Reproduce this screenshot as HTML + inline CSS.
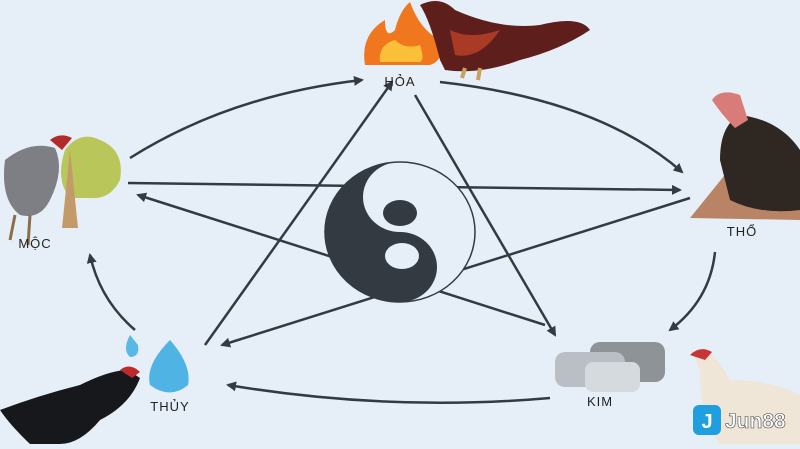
<!DOCTYPE html><html><head><style>
body{margin:0;width:800px;height:444px;overflow:hidden;background:#e6eff7;font-family:"Liberation Sans",sans-serif}
</style></head><body>
<svg width="800" height="444" viewBox="0 0 800 444">
<defs><marker id="a" markerWidth="10" markerHeight="10" refX="8" refY="5" orient="auto" markerUnits="userSpaceOnUse"><path d="M0,0 L10,5 L0,10 z" fill="#333a42"/></marker></defs>
<g stroke="#333a42" stroke-width="2.5" fill="none" marker-end="url(#a)">
<path d="M130,158 Q230,95 362,80"/>
<path d="M440,82 Q600,100 682,172"/>
<path d="M715,252 Q710,300 670,330"/>
<path d="M550,398 Q390,412 228,385"/>
<path d="M135,330 Q100,300 90,255"/>
<path d="M128,183 L680,190"/>
<path d="M690,198 L222,345"/>
<path d="M205,345 L392,82"/>
<path d="M415,95 L555,335"/>
<path d="M545,325 L138,195"/>
</g>
<ellipse cx="400" cy="232" rx="75" ry="70" fill="#e6eff7" stroke="#333a42" stroke-width="1.5"/>
<path d="M400,162 A75,70 0 0 0 400,302 A37,35 0 0 0 400,232 A37,35 0 0 1 400,162 z" fill="#333a42"/>
<ellipse cx="400" cy="213" rx="17" ry="13" fill="#333a42"/>
<ellipse cx="402" cy="256" rx="17" ry="13" fill="#e6eff7"/>
<!-- fire -->
<path d="M365,65 Q360,35 385,20 Q385,40 395,30 Q400,10 410,2 Q420,30 440,40 Q445,60 430,65 z" fill="#f0771e"/>
<path d="M380,62 Q378,45 395,40 Q405,50 420,45 Q425,60 420,62 z" fill="#fbbf3a"/>
<!-- hoa rooster -->
<path d="M440,60 Q430,20 420,5 Q440,-5 455,10 Q500,30 540,25 Q580,15 590,30 Q560,50 520,60 Q480,75 445,70 z" fill="#5e1e1c"/>
<path d="M450,30 Q470,40 500,30 Q480,60 455,55 z" fill="#a83a26"/>
<path d="M465,68 L462,78 M480,68 L478,80" stroke="#c8a060" stroke-width="4"/>
<!-- tho -->
<path d="M690,218 L745,150 L800,170 L800,220 z" fill="#b98466"/>
<path d="M720,160 Q720,125 740,115 Q780,120 800,150 L800,210 Q760,215 730,200 z" fill="#2e2722"/>
<path d="M712,100 Q720,88 740,95 L748,120 L735,128 Q722,115 712,100 z" fill="#d97b78"/>
<!-- moc -->
<path d="M65,150 Q80,130 100,140 Q125,150 120,180 Q110,200 90,198 L70,198 Q55,180 65,150 z" fill="#b8c65a"/>
<path d="M62,228 L70,150 L78,228 z" fill="#c39a6a"/>
<path d="M5,160 Q30,140 55,148 Q65,170 50,200 Q40,220 20,215 Q0,200 5,160 z" fill="#7d7f85"/>
<path d="M50,140 Q60,132 72,138 L62,150 z" fill="#b32a2a"/>
<path d="M15,215 L10,240 M30,215 L28,245" stroke="#8c6e4a" stroke-width="3"/>
<!-- thuy -->
<path d="M130,335 Q122,350 130,357 Q140,357 138,345 z" fill="#59b9e6"/>
<path d="M170,340 Q145,365 150,385 Q170,400 188,385 Q192,365 170,340 z" fill="#4fb4e4"/>
<path d="M0,410 Q40,395 80,385 Q110,370 128,370 L140,378 Q130,405 100,420 Q80,444 60,444 L30,444 Q10,425 0,410 z" fill="#16181c"/>
<path d="M120,370 Q130,362 140,372 L132,378 z" fill="#c02a2a"/>
<!-- kim -->
<rect x="590" y="342" width="75" height="40" rx="10" fill="#8e9398"/>
<rect x="555" y="352" width="70" height="35" rx="10" fill="#b9bfc4"/>
<rect x="585" y="362" width="55" height="30" rx="8" fill="#d5dade"/>
<path d="M700,370 Q690,355 705,350 Q720,360 730,380 Q770,380 800,395 L800,444 L720,444 Q700,420 700,370 z" fill="#efe6d8"/>
<path d="M690,355 Q700,345 712,352 L705,360 z" fill="#c93434"/>
<!-- logo -->
<rect x="693" y="405" width="28" height="30" rx="6" fill="#1f9fe0"/>
<text x="707" y="428" font-size="20" font-weight="bold" fill="#fff" text-anchor="middle">J</text>
<text x="725" y="428" font-size="21" font-weight="bold" fill="#fff" stroke="#444" stroke-width="0.6">Jun88</text>
<g font-size="13" fill="#222" text-anchor="middle" letter-spacing="1">
<text x="400" y="86">HỎA</text>
<text x="742" y="236">THỔ</text>
<text x="600" y="406">KIM</text>
<text x="170" y="411">THỦY</text>
<text x="35" y="248">MỘC</text>
</g>
</svg>
</body></html>
